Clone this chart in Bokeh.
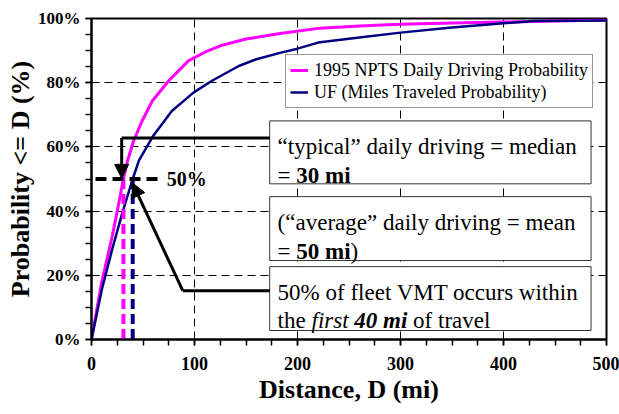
from bokeh.plotting import figure
from bokeh.models import Range1d, FixedTicker, Arrow, NormalHead
from bokeh.core.properties import value
from bokeh.embed import file_html
from bokeh.resources import INLINE

# ---- data ----
npts_dist = [0, 5, 10, 15, 20, 25, 31, 35, 41, 49, 59, 75, 94, 110, 125, 150, 183, 222, 260, 300, 350, 400, 450, 500]
npts_prob = [0, 9, 18, 25, 32, 40, 50, 55.7, 62, 68, 74.3, 80.6, 86.8, 89.5, 91.5, 93.6, 95.3, 97.0, 97.7, 98.2, 98.6, 98.9, 99.2, 99.5]

uf_dist = [0, 10, 20, 30, 40, 46, 60, 78, 99, 117, 143, 160, 183, 200, 220, 260, 300, 350, 400, 430, 500]
uf_prob = [0, 15.5, 28, 39.5, 50, 55.7, 63.5, 71.2, 76.9, 80.6, 85.2, 87.3, 89.3, 90.6, 92.5, 94.1, 95.6, 97.2, 98.5, 99.2, 99.4]

series_names = ["1995 NPTS Daily Driving Probability", "UF (Miles Traveled Probability)"]
series_colors = ["#FF00FF", "#000080"]

x_ticks = [0, 100, 200, 300, 400, 500]
x_minor = list(range(0, 501, 25))
y_ticks = [0, 20, 40, 60, 80, 100]
y_minor = list(range(0, 101, 5))
y_tick_labels = ["0%", "20%", "40%", "60%", "80%", "100%"]

median_npts = 31
median_uf = 40
half = 50

FONT = "Liberation Serif"

p = figure(width=619, height=414, output_backend="svg", toolbar_location=None,
           x_range=Range1d(0, 500), y_range=Range1d(0, 100),
           min_border_left=91, min_border_right=13, min_border_top=18, min_border_bottom=75)
p.title.visible = False
p.background_fill_color = "white"
p.border_fill_color = "white"
p.outline_line_color = "black"
p.outline_line_width = 2
p.outline_line_alpha = 1

p.xaxis.ticker = FixedTicker(ticks=x_ticks, minor_ticks=x_minor)
p.yaxis.ticker = FixedTicker(ticks=y_ticks, minor_ticks=y_minor)
p.yaxis.major_label_overrides = {t: l for t, l in zip(y_ticks, y_tick_labels)}
p.xaxis.axis_label = "Distance, D (mi)"
p.yaxis.axis_label = "Probability <= D (%)"

for ax in (p.xaxis, p.yaxis):
    ax.axis_line_width = 2
    ax.axis_line_color = "black"
    ax.major_tick_out = 6
    ax.major_tick_in = 0
    ax.minor_tick_out = 6
    ax.minor_tick_in = 0
    ax.major_tick_line_width = 1.5
    ax.minor_tick_line_width = 1.5
    ax.major_tick_line_color = "black"
    ax.minor_tick_line_color = "black"
    ax.major_label_text_font = FONT
    ax.major_label_text_font_style = "bold"
    ax.major_label_text_font_size = "18px"
    ax.major_label_text_color = "black"
    ax.axis_label_text_font = FONT
    ax.axis_label_text_font_style = "bold"
    ax.axis_label_text_font_size = "26px"
    ax.axis_label_text_color = "black"
p.yaxis.major_label_text_font_size = "17px"
p.xaxis.major_label_standoff = 11
p.yaxis.major_label_standoff = 5
p.xaxis.axis_label_standoff = 2
p.yaxis.axis_label_standoff = 0

p.grid.grid_line_color = "black"
p.grid.grid_line_dash = "8 5"
p.grid.grid_line_width = 1

# curves
p.line(npts_dist, npts_prob, line_color=series_colors[0], line_width=3, legend_label=series_names[0])
p.line(uf_dist, uf_prob, line_color=series_colors[1], line_width=2.5, legend_label=series_names[1])

# median drop lines
p.line([median_npts, median_npts], [half, 0], line_color=series_colors[0], line_width=4, line_dash="10 5")
p.line([median_uf, median_uf], [half, 0], line_color=series_colors[1], line_width=4, line_dash="10 5")
p.add_layout(Arrow(start=None, end=None, x_start=-12.6, y_start=half, x_end=65, y_end=half,
                   line_color="black", line_width=4, line_dash="11 6"))
p.text(x=[73], y=[half], text=["50%"], text_font=value(FONT), text_font_style="bold",
       text_font_size="20px", text_baseline="middle", text_align="left", text_color="black")

# annotation boxes
box_left, box_right = 173, 485
boxes = [(68.1, 48.5), (44.5, 24.6), (22.7, 2.8)]
p.quad(left=[box_left] * 3, right=[box_right] * 3, top=[b[0] for b in boxes], bottom=[b[1] for b in boxes],
       fill_color="white", line_color="#333333", line_width=1)

# arrows
p.line([173, 29.3], [62.8, 62.8], line_color="black", line_width=3)
p.add_layout(Arrow(end=NormalHead(size=14, fill_color="black", line_color="black"),
                   x_start=29.3, y_start=62.8, x_end=29.3, y_end=50.2,
                   line_color="black", line_width=3))
p.line([173, 88.6], [15.2, 15.2], line_color="black", line_width=3)
p.add_layout(Arrow(end=NormalHead(size=14, fill_color="black", line_color="black"),
                   x_start=88.6, y_start=15.2, x_end=39.7, y_end=48.8,
                   line_color="black", line_width=3))

# box texts
tx = 180.7
FS = "23px"
def txt(x_off, y, s, style):
    p.text(x=[tx], y=[y], text=[s], x_offset=x_off, text_font=value(FONT), text_font_style=style,
           text_font_size=FS, text_baseline="alphabetic", text_align="left", text_color="black")

txt(0, 60.1, "\u201ctypical\u201d daily driving = median", "normal")
txt(0, 51.1, "=", "normal")
txt(18.7, 51.1, "30 mi", "bold")
txt(0, 36.4, "(\u201caverage\u201d daily driving = mean", "normal")
txt(0, 27.4, "=", "normal")
txt(18.7, 27.4, "50 mi", "bold")
txt(73.0, 27.4, ")", "normal")
txt(0, 14.6, "50% of fleet VMT occurs within", "normal")
txt(0, 5.8, "the", "normal")
txt(33.9, 5.8, "first", "italic")
txt(76.7, 5.8, "40 mi", "bold italic")
txt(135.5, 5.8, "of travel", "normal")

# legend
lg = p.legend[0]
lg.location = (194, 231)
lg.label_text_font = FONT
lg.label_text_font_size = "18px"
lg.label_text_color = "black"
lg.label_height = 22
lg.glyph_height = 22
lg.glyph_width = 18
lg.label_standoff = 6
lg.padding = 4
lg.margin = 0
lg.spacing = 0
lg.border_line_color = "#333333"
lg.border_line_width = 1
lg.background_fill_color = "white"
lg.background_fill_alpha = 1

open("out.html", "w").write(file_html(p, INLINE))
